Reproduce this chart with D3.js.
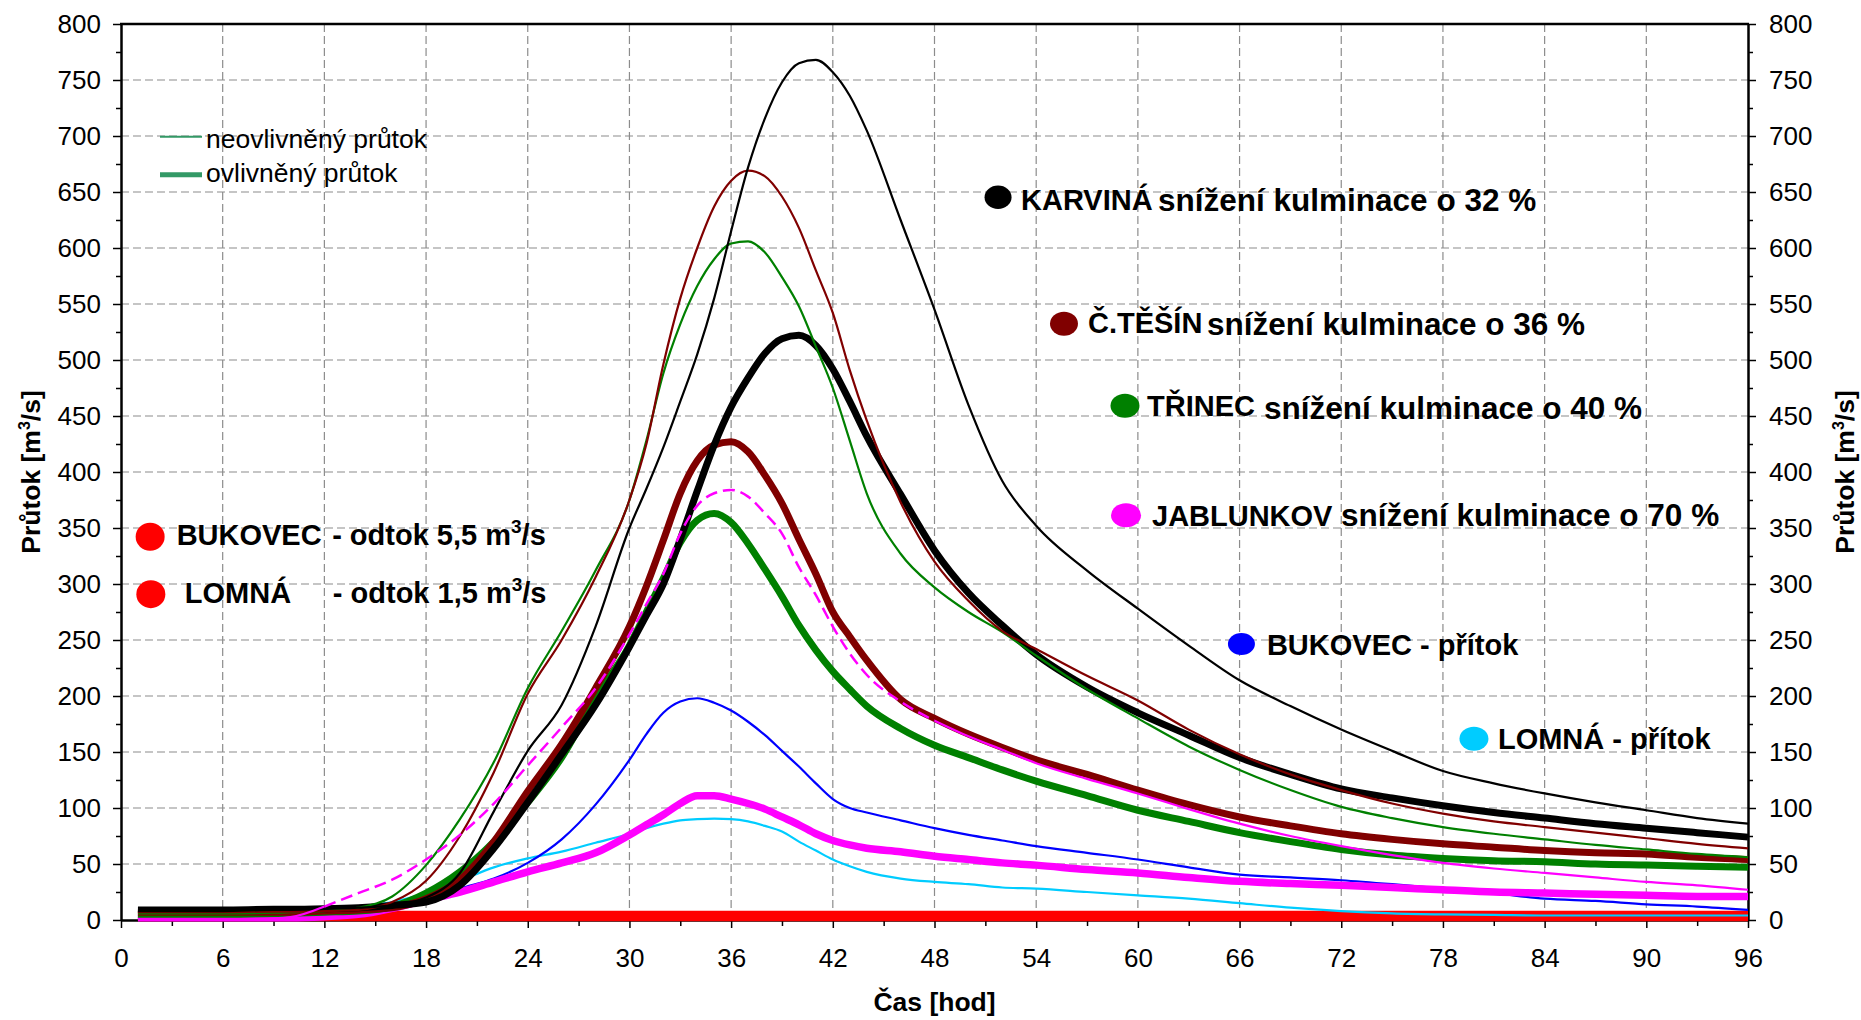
<!DOCTYPE html>
<html><head><meta charset="utf-8">
<script src="https://cdn.jsdelivr.net/npm/d3@7"></script>
<style>
body{margin:0;background:#fff}
svg{display:block}
text{font-family:"Liberation Sans",Arial,Helvetica,sans-serif}
</style>
</head><body>
<svg id="chart" width="1861" height="1020"></svg>
<script>
// ---------------- DATA ----------------
const hours = [1,3,6,9,10,12,14,16,18,20,22,24,26,28,30,31,32,33,34,35,36,37,38,39,40,41,42,43,44,46,48,50,52,54,57,60,63,66,69,72,75,78,81,84,87,90,93,96];

const karvinaNeo = [8,8,8,9,9, 10,11,13,20,42, 97,151,192,262,350, 385,422,463,505,555, 615,672,716,748,765, 768,757,736,705,625, 545,460,392,352,312, 278,245,214,191,170, 151,133,122,113,105, 98,91,86];
const karvinaOvl = [9,9,9,9.5,9.5, 10,11,13,16,31, 64,105,148,192,244, 272,300,340,383,424, 458,484,506,519,522, 513,492,463,432,380, 330,292,263,237,208, 185,165,145,130,117, 109,102,96,91,86, 82,78,74];
const tesinNeo = [7,7,7,7.5,7.5, 8,9,16,35,75, 132,202,250,306,375, 425,496,555,600,637, 660,669,664,646,618, 580,542,491,446,373, 320,285,258,242,218, 196,170,148,130,116, 104,95,88,83,78, 73,68,64];
const tesinOvl = [7,7,7,7,7, 8,9,11,19,36, 70,115,157,207,262, 298,339,381,410,424, 427,418,397,372,340, 309,275,253,232,197, 180,166,154,143,130, 116,103,92,84,77, 72,68,65,62,60, 59,56,54];
const trinecNeo = [6,6,6,6.5,7, 8,11,21,49,90, 141,207,258,312,375, 428,488,532,566,590, 604,606,596,574,548, 512,475,428,381,327, 297,275,257,236,206, 180,155,134,116,101, 91,83,77,72,67, 63,59,56];
const trinecOvl = [5,5,5,5.5,6, 7,8,12,24,43, 70,105,145,198,245, 275,305,337,357,363, 355,336,313,289,263, 241,222,206,191,171, 156,145,134,124,111, 98,88,78,70,63, 58,55,53,52,50, 49,48,47];
const jabNeo = [1,1,1,1.5,2.5, 12,24,36,54,76, 104,138,172,207,255, 282,309,345,370,381, 384,378,363,345,315, 290,262,238,219,195, 178,164,152,140,126, 113,99,86,75,66, 58,51,46,42,38, 34,31,27];
const jabOvl = [2,2,2,2,2, 3,5,10.5,18,25, 34,43,51,60,76, 85,94,104,111,111, 108,104,99,92,85, 77,71,67,64,61, 57,54,51,49,45, 42,38,34.5,32.5,31, 29,27,25,24,23, 22,21,21];
const bukPritok = [2,2,2,2,2, 2,3,9,18,28, 37,51,72,103,143, 166,185,195,198,194, 187,177,165,151,137, 122,108,100,96,89, 82,76,71,66,60, 54,47,40.5,38,35.5, 32,28,24,19,17, 14,12,9];
const lomPritok = [2,2,2,3,4, 8,12,16,24,35, 47,55,61,69,77, 82,86,89,90,90.5, 90,88,84,79,70, 62,54,48,43,37, 34,32,29,28,25, 22,19,15,11,8, 6,5,4.5,4,4, 4,4,4];

const odtokHours = [1,96];
const bukOdtok = [5.5,5.5];
const lomOdtok = [1.5,1.5];

const yTickValues = [0,50,100,150,200,250,300,350,400,450,500,550,600,650,700,750,800];
const yMinorValues = [25,75,125,175,225,275,325,375,425,475,525,575,625,675,725,775];
const xTickValues = [0,6,12,18,24,30,36,42,48,54,60,66,72,78,84,90,96];
const xMinorValues = [3,9,15,21,27,33,39,45,51,57,63,69,75,81,87,93];

const legendItems = ["neovlivněný průtok","ovlivněný průtok"];

// ---------------- LAYOUT ----------------
const svg = d3.select("#chart");
const x = d3.scaleLinear().domain([0,96]).range([121,1748]);
const y = d3.scaleLinear().domain([0,800]).range([920,24]);
const FONT = '"Liberation Sans",Arial,Helvetica,sans-serif';

// grid
const grid = svg.append("g");
grid.selectAll("line.h").data(yTickValues.filter(v => v>0 && v<800)).join("line")
  .attr("x1", x(0)).attr("x2", x(96)).attr("y1", d=>y(d)).attr("y2", d=>y(d))
  .attr("stroke","#8c8c8c").attr("stroke-width",1.2).attr("stroke-dasharray","8,4");
grid.selectAll("line.v").data(xTickValues.filter(v => v>0 && v<96)).join("line")
  .attr("y1", y(0)).attr("y2", y(800)).attr("x1", d=>x(d)).attr("x2", d=>x(d))
  .attr("stroke","#8c8c8c").attr("stroke-width",1.2).attr("stroke-dasharray","8,4");

function styleAxis(g){
  g.attr("font-family", null).attr("font-size", null);
  g.select(".domain").attr("stroke","#000").attr("stroke-width",2.5);
  g.selectAll(".tick line").attr("stroke","#000").attr("stroke-width",1.5);
  g.selectAll(".tick text").attr("fill","#000").style("font-size","26px").style("font-family",FONT);
}
// left
const gL = svg.append("g").attr("transform",`translate(${x(0)},0)`)
  .call(d3.axisLeft(y).tickValues(yTickValues).tickSize(8).tickSizeOuter(0).tickPadding(12));
styleAxis(gL);
const gLm = svg.append("g").attr("transform",`translate(${x(0)},0)`)
  .call(d3.axisLeft(y).tickValues(yMinorValues).tickSize(5).tickFormat(""));
gLm.select(".domain").remove(); gLm.selectAll(".tick line").attr("stroke","#000").attr("stroke-width",1.5);
// right
const gR = svg.append("g").attr("transform",`translate(${x(96)},0)`)
  .call(d3.axisRight(y).tickValues(yTickValues).tickSize(8).tickSizeOuter(0).tickPadding(13));
styleAxis(gR);
const gRm = svg.append("g").attr("transform",`translate(${x(96)},0)`)
  .call(d3.axisRight(y).tickValues(yMinorValues).tickSize(5).tickFormat(""));
gRm.select(".domain").remove(); gRm.selectAll(".tick line").attr("stroke","#000").attr("stroke-width",1.5);
// bottom
const gB = svg.append("g").attr("transform",`translate(0,${y(0)})`)
  .call(d3.axisBottom(x).tickValues(xTickValues).tickSize(8).tickSizeOuter(0).tickPadding(21));
styleAxis(gB);
const gBm = svg.append("g").attr("transform",`translate(0,${y(0)})`)
  .call(d3.axisBottom(x).tickValues(xMinorValues).tickSize(6).tickFormat(""));
gBm.select(".domain").remove(); gBm.selectAll(".tick line").attr("stroke","#000").attr("stroke-width",1.5);
// top border
svg.append("line").attr("x1",x(0)-1).attr("x2",x(96)+1).attr("y1",y(800)).attr("y2",y(800))
  .attr("stroke","#000").attr("stroke-width",2.5);

// ---------------- LINES ----------------
const lineGen = (hrs) => d3.line().x((d,i)=>x(hrs[i])).y(d=>y(d)).curve(d3.curveMonotoneX);

const series = [
  {values: bukOdtok, hrs: odtokHours, color:"#ff0000", width:6},
  {values: lomOdtok, hrs: odtokHours, color:"#ff0000", width:6},
  {values: lomPritok, color:"#00ccff", width:2.2},
  {values: bukPritok, color:"#0000ff", width:2.2},
  {values: jabOvl, color:"#ff00ff", width:7.5},
  {values: trinecOvl, color:"#008000", width:7},
  {values: tesinOvl, color:"#800000", width:7},
  {values: karvinaOvl, color:"#000000", width:7},
  {values: trinecNeo, color:"#008000", width:2.2},
  {values: tesinNeo, color:"#800000", width:2.2},
  {values: karvinaNeo, color:"#000000", width:2.2}
];
const gLines = svg.append("g").attr("fill","none").attr("stroke-linejoin","round").attr("stroke-linecap","butt");
series.forEach(s => {
  const hrs = s.hrs || hours;
  gLines.append("path").attr("d", lineGen(hrs)(s.values))
    .attr("stroke", s.color).attr("stroke-width", s.width);
});
// JABLUNKOV neovlivněný: solid before h12 and after h48, dashed between
const jabIdx = hours.map((h,i)=>i);
const partA = jabIdx.filter(i => hours[i] <= 12);
const partB = jabIdx.filter(i => hours[i] >= 12 && hours[i] <= 48);
const partC = jabIdx.filter(i => hours[i] >= 48);
const subLine = d3.line().x(i=>x(hours[i])).y(i=>y(jabNeo[i])).curve(d3.curveMonotoneX);
gLines.append("path").attr("d", subLine(partA)).attr("stroke","#ff00ff").attr("stroke-width",2.2);
gLines.append("path").attr("d", subLine(partB)).attr("stroke","#ff00ff").attr("stroke-width",2.5).attr("stroke-dasharray","12,6");
gLines.append("path").attr("d", subLine(partC)).attr("stroke","#ff00ff").attr("stroke-width",2.2);

// ---------------- LEGEND ----------------
const legStyle = [{w:2, ly:136.7, ty:147.7},{w:5, ly:174.8, ty:181.7}];
legendItems.forEach((label,i) => {
  const st = legStyle[i];
  svg.append("line").attr("x1",160).attr("x2",202).attr("y1",st.ly).attr("y2",st.ly)
    .attr("stroke","#339966").attr("stroke-width",st.w);
  svg.append("text").attr("x",206).attr("y",st.ty).style("font-size","26.5px").attr("fill","#000").text(label);
});

// ---------------- ANNOTATIONS ----------------
const notes = [
  {h:51.75, v:645.3, color:"#000000", name:"KARVINÁ", ndx:23, ndy:13, note:"snížení kulminace o 32 %", tdx:160, tdy:14, rx:13.5, ry:11.7},
  {h:55.64, v:532.4, color:"#800000", name:"Č.TĚŠÍN", ndx:24, ndy:9, note:"snížení kulminace o 36 %", tdx:143, tdy:11.5, rx:14, ry:12},
  {h:59.24, v:459.2, color:"#008000", name:"TŘINEC", ndx:22, ndy:10.5, note:"snížení kulminace o 40 %", tdx:139, tdy:13.5, rx:14.5, ry:12},
  {h:59.30, v:361.3, color:"#ff00ff", name:"JABLUNKOV", ndx:26, ndy:10.4, note:"snížení kulminace o 70 %", tdx:215, tdy:10.4, rx:15, ry:12},
  {h:66.11, v:246.4, color:"#0000ff", name:"BUKOVEC - přítok", ndx:25.5, ndy:11, rx:13.5, ry:11},
  {h:79.83, v:161.8, color:"#00ccff", name:"LOMNÁ - přítok", ndx:24, ndy:10, rx:14.5, ry:12},
];
notes.forEach(n => {
  const cx = x(n.h), cy = y(n.v);
  svg.append("ellipse").attr("cx",cx).attr("cy",cy).attr("rx",n.rx).attr("ry",n.ry).attr("fill",n.color);
  svg.append("text").attr("x",cx+n.ndx).attr("y",cy+n.ndy).style("font-size","29px").style("font-weight","bold").attr("fill","#000").text(n.name);
  if(n.note) svg.append("text").attr("x",cx+n.tdx).attr("y",cy+n.tdy).style("font-size","31.5px").style("font-weight","bold").attr("fill","#000").text(n.note);
});

const odtokNotes = [
  {h:1.72, v:342.2, name:"BUKOVEC", ndx:26.5, ndy:8.3, amount:"5,5"},
  {h:1.76, v:290.9, name:"LOMNÁ", ndx:34, ndy:9, amount:"1,5"},
];
odtokNotes.forEach(n => {
  const cx = x(n.h), cy = y(n.v);
  svg.append("ellipse").attr("cx",cx).attr("cy",cy).attr("rx",14.5).attr("ry",14).attr("fill","#ff0000");
  svg.append("text").attr("x",cx+n.ndx).attr("y",cy+n.ndy).style("font-size","29px").style("font-weight","bold").attr("fill","#000").text(n.name);
  const t = svg.append("text").attr("x",cx+182).attr("y",cy+n.ndy).style("font-size","29px").style("font-weight","bold").attr("fill","#000");
  t.append("tspan").text(`- odtok ${n.amount} m`);
  t.append("tspan").attr("dy",-12).style("font-size","19px").text("3");
  t.append("tspan").attr("dy",12).text("/s");
});

// ---------------- AXIS TITLES ----------------
function yTitle(px){
  const t = svg.append("text").attr("transform",`translate(${px},472) rotate(-90)`)
    .attr("text-anchor","middle").style("font-size","26.5px").style("font-weight","bold").attr("fill","#000");
  t.append("tspan").text("Průtok [m");
  t.append("tspan").attr("dy",-10).style("font-size","16px").text("3");
  t.append("tspan").attr("dy",10).text("/s]");
}
yTitle(39.5);
yTitle(1854);
svg.append("text").attr("x",(x(0)+x(96))/2).attr("y",1011).attr("text-anchor","middle")
  .style("font-size","26.5px").style("font-weight","bold").attr("fill","#000").text("Čas [hod]");
</script>
</body></html>
